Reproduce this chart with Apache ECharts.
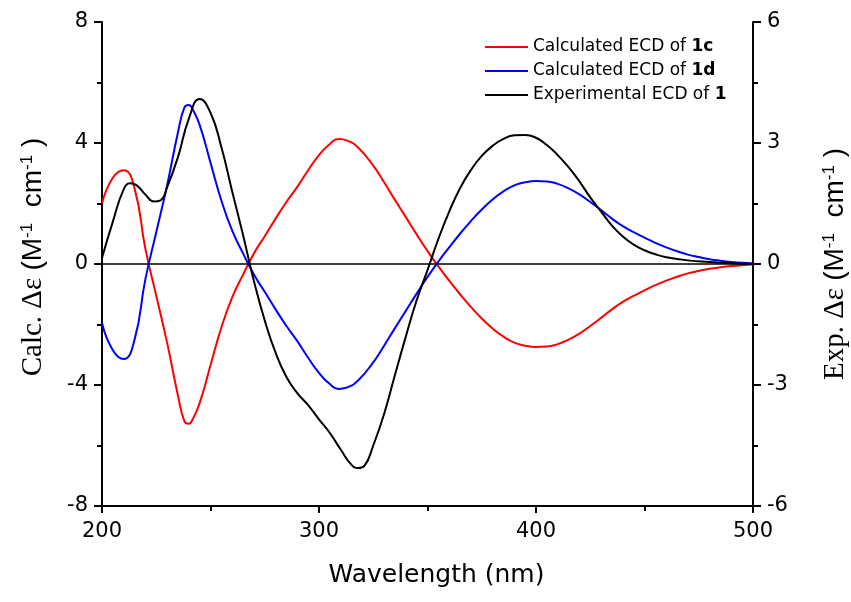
<!DOCTYPE html>
<html>
<head>
<meta charset="utf-8">
<script src="https://cdn.jsdelivr.net/npm/echarts@6/dist/echarts.min.js"></script>
<style>html,body{margin:0;padding:0;background:#fff}#c{width:851px;height:602px}</style>
</head>
<body>
<div id="c"></div>
<script>
// ---- data ----
var calcWl = [200,205,210,215,220,225,230,235,238,240,242,245,250,255,260,265,270,275,280,285,290,295,300,305,309,313,318,325,330,335,340,345,350,355,360,365,370,375,380,385,390,395,400,405,410,415,420,425,430,435,440,445,450,455,460,465,470,475,480,485,490,495,500];
var calc1c = [2.0,2.85,3.1,2.5,0.5,-1.05,-2.6,-4.35,-5.2,-5.28,-5.1,-4.6,-3.35,-2.1,-1.1,-0.35,0.35,0.92,1.5,2.05,2.55,3.1,3.6,3.97,4.13,4.08,3.85,3.25,2.7,2.12,1.55,0.98,0.43,-0.08,-0.55,-1.0,-1.42,-1.8,-2.13,-2.4,-2.6,-2.7,-2.74,-2.73,-2.65,-2.5,-2.3,-2.05,-1.78,-1.5,-1.25,-1.05,-0.87,-0.7,-0.55,-0.42,-0.31,-0.23,-0.16,-0.11,-0.07,-0.04,-0.02];
var calc1d = [-1.95,-2.85,-3.14,-2.5,-0.5,1.05,2.6,4.35,5.18,5.26,5.08,4.6,3.35,2.1,1.1,0.35,-0.35,-0.92,-1.5,-2.05,-2.55,-3.1,-3.6,-3.97,-4.13,-4.08,-3.85,-3.25,-2.7,-2.12,-1.55,-0.98,-0.43,0.08,0.55,1.0,1.42,1.8,2.13,2.4,2.6,2.7,2.74,2.73,2.65,2.5,2.3,2.05,1.78,1.5,1.25,1.05,0.87,0.7,0.55,0.42,0.31,0.23,0.16,0.11,0.07,0.04,0.02];
var expWl = [200,205,210,213,216,220,224,227,230,235,240,245,250,255,260,265,270,275,280,285,290,295,300,305,310,315,318,321,325,330,335,340,345,350,355,360,365,370,375,380,385,390,395,400,405,410,415,420,425,430,435,440,445,450,455,460,470,480,490,500];
var exp1 = [0.15,1.05,1.85,2.0,1.95,1.72,1.55,1.58,1.9,2.65,3.6,4.09,3.75,2.9,1.8,0.72,-0.42,-1.4,-2.2,-2.8,-3.2,-3.5,-3.85,-4.19,-4.6,-4.98,-5.06,-5.0,-4.5,-3.72,-2.75,-1.8,-0.9,-0.15,0.62,1.3,1.88,2.33,2.68,2.93,3.1,3.19,3.2,3.13,2.95,2.7,2.4,2.05,1.65,1.3,0.95,0.68,0.48,0.34,0.24,0.17,0.09,0.05,0.02,0.0];
var seriesNames = ['Calculated ECD of 1c', 'Calculated ECD of 1d', 'Experimental ECD of 1'];
var xTicks = {min: 200, max: 500, interval: 100};
var calcTicks = {min: -8, max: 8, interval: 4};
var expTicks = {min: -6, max: 6, interval: 3};

function pairs(xs, ys) { return xs.map(function (x, i) { return [x, ys[i]]; }); }

var sansH = 'DejaVu Sans';
var richName = {
  s: {fontFamily: 'Liberation Serif', fontSize: 29, color: '#000'},
  a: {fontFamily: 'Liberation Sans', fontSize: 28, color: '#000'},
  p: {fontFamily: 'Liberation Sans', fontSize: 17, color: '#000', verticalAlign: 'top', padding: [0, 0, 10, 0]}
};
var axisLineStyle = {color: '#000', width: 2};

var chart = echarts.init(document.getElementById('c'), null, {renderer: 'canvas'});
chart.setOption({
  animation: false,
  backgroundColor: '#fff',
  grid: {left: 102, right: 98, top: 22, bottom: 96, containLabel: false, outerBoundsMode: 'none'},
  legend: {
    orient: 'vertical', left: 485, top: 37, itemGap: 4, padding: 0,
    itemWidth: 43, itemHeight: 2, icon: 'rect',
    data: seriesNames,
    formatter: function (n) {
      var i = n.lastIndexOf(' ');
      return '{n|' + n.slice(0, i + 1) + '}{b|' + n.slice(i + 1) + '}';
    },
    textStyle: {
      lineHeight: 20,
      rich: {
        n: {fontFamily: sansH, fontSize: 17, color: '#000'},
        b: {fontFamily: sansH, fontSize: 17, fontWeight: 'bold', color: '#000'}
      }
    }
  },
  xAxis: {
    type: 'value', min: xTicks.min, max: xTicks.max, interval: xTicks.interval,
    name: 'Wavelength (nm)', nameLocation: 'middle', nameGap: 57,
    nameTextStyle: {fontFamily: sansH, fontSize: 25, color: '#000', padding: [0, 0, 0, 18]},
    axisLine: {show: true, onZero: false, lineStyle: axisLineStyle},
    axisTick: {show: true, length: 7, lineStyle: {color: '#000', width: 2}},
    minorTick: {show: true, splitNumber: 2, length: 5, lineStyle: {color: '#000', width: 2}},
    axisLabel: {margin: 15, fontFamily: sansH, fontSize: 21, color: '#000'},
    splitLine: {show: false}
  },
  yAxis: [{
    type: 'value', position: 'left', min: calcTicks.min, max: calcTicks.max, interval: calcTicks.interval,
    name: '{s|Calc. Δε }{a|(M}{p|-1}{a|  cm}{p|-1}{a| )}',
    nameLocation: 'middle', nameRotate: 90, nameGap: 54,
    nameTextStyle: {rich: richName, padding: [0, 0, 0, 14]},
    axisLine: {show: true, onZero: false, lineStyle: axisLineStyle},
    axisTick: {show: true, length: 8, lineStyle: {color: '#000', width: 2}},
    minorTick: {show: true, splitNumber: 2, length: 5, lineStyle: {color: '#000', width: 2}},
    axisLabel: {margin: 14, fontFamily: sansH, fontSize: 21, color: '#000'},
    splitLine: {show: false}
  }, {
    type: 'value', position: 'right', min: expTicks.min, max: expTicks.max, interval: expTicks.interval,
    name: '{s|Exp. Δε }{a|(M}{p|-1}{a|  cm}{p|-1}{a| )}',
    nameLocation: 'middle', nameRotate: 90, nameGap: 68,
    nameTextStyle: {rich: richName},
    axisLine: {show: true, onZero: false, lineStyle: axisLineStyle},
    axisTick: {show: true, length: 8, lineStyle: {color: '#000', width: 2}},
    minorTick: {show: true, splitNumber: 2, length: 5, lineStyle: {color: '#000', width: 2}},
    axisLabel: {margin: 14, fontFamily: sansH, fontSize: 21, color: '#000'},
    splitLine: {show: false}
  }],
  series: [{
    name: seriesNames[0], type: 'line', yAxisIndex: 0, data: pairs(calcWl, calc1c),
    smooth: 0.5, symbol: 'none', lineStyle: {color: '#ff0000', width: 2}, itemStyle: {color: '#ff0000'}
  }, {
    name: seriesNames[1], type: 'line', yAxisIndex: 0, data: pairs(calcWl, calc1d),
    smooth: 0.5, symbol: 'none', lineStyle: {color: '#0000ff', width: 2}, itemStyle: {color: '#0000ff'}
  }, {
    name: seriesNames[2], type: 'line', yAxisIndex: 1, data: pairs(expWl, exp1),
    smooth: 0.5, symbol: 'none', lineStyle: {color: '#000', width: 2}, itemStyle: {color: '#000'},
    markLine: {
      silent: true, symbol: 'none', label: {show: false},
      lineStyle: {color: '#000', width: 1.5, type: 'solid'},
      data: [{yAxis: 0}]
    }
  }]
});
</script>
</body>
</html>
